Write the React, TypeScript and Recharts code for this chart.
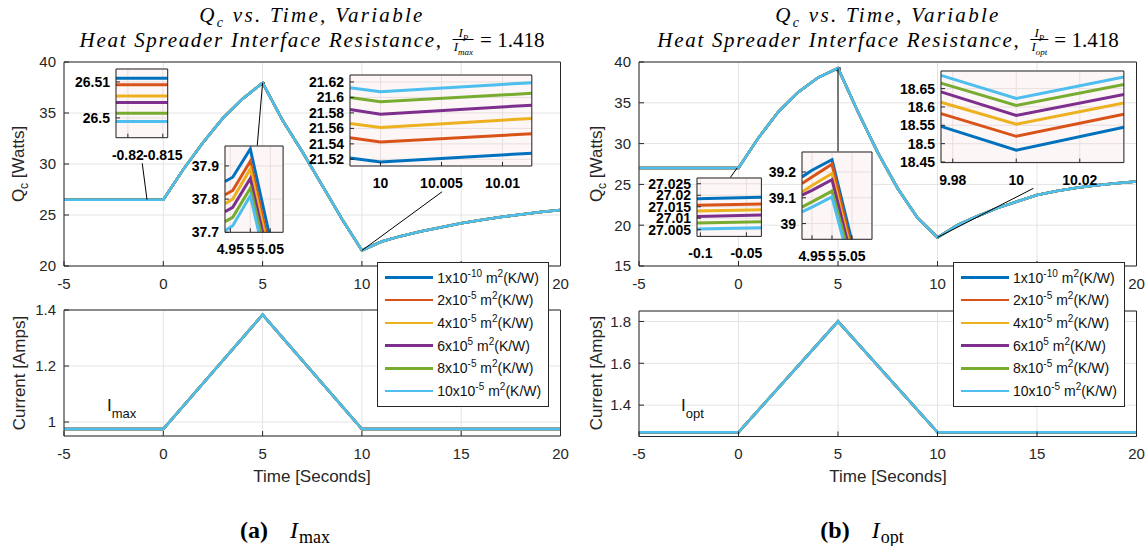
import React from 'react';
import { LineChart, Line, XAxis, YAxis, CartesianGrid, ReferenceLine, ReferenceArea } from 'recharts';

// MATLAB default colour order, one per interface resistance
const COLORS = ['#0072BD', '#D95319', '#EDB120', '#7E2F8E', '#77AC30', '#4DBEEE'];
const LEGEND_BASE = ['1x10', '2x10', '4x10', '6x10', '8x10', '10x10'];
const LEGEND_EXP = ['-10', '-5', '-5', '5', '-5', '-5'];

// main Q_c traces (the six resistances overlap at this scale)
const TIME = [-5, 0, 1, 2, 3, 4, 5, 6, 7, 8, 9, 10, 11, 12, 13, 14, 15, 16, 17, 18, 19, 20];
const QC_IMAX = [26.5, 26.5, 29.45, 32.1, 34.5, 36.4, 37.95, 34.3, 31.2, 27.9, 24.6, 21.52, 22.4, 22.95, 23.4, 23.8, 24.2, 24.5, 24.8, 25.05, 25.3, 25.5];
const QC_IOPT = [27.02, 27.02, 30.7, 33.9, 36.3, 38.1, 39.25, 33.9, 28.9, 24.5, 20.9, 18.5, 20.0, 21.1, 22.1, 22.9, 23.7, 24.2, 24.6, 24.9, 25.15, 25.35];

// drive current
const TIME_I = [-5, 0, 5, 10, 20];
const CURRENT_IMAX = [0.975, 0.975, 1.383, 0.975, 0.975];
const CURRENT_IOPT = [1.27, 1.27, 1.8, 1.27, 1.27];

// axis ticks
const X_TICKS = [-5, 0, 5, 10, 15, 20];
const X_MINOR = [-4, -3, -2, -1, 1, 2, 3, 4, 6, 7, 8, 9, 11, 12, 13, 14, 16, 17, 18, 19];
const QA_TICKS = [20, 25, 30, 35, 40];
const QA_MINOR = [21, 22, 23, 24, 26, 27, 28, 29, 31, 32, 33, 34, 36, 37, 38, 39];
const QB_TICKS = [15, 20, 25, 30, 35, 40];
const QB_MINOR = [16, 17, 18, 19, 21, 22, 23, 24, 26, 27, 28, 29, 31, 32, 33, 34, 36, 37, 38, 39];
const IA_TICKS = [1, 1.2, 1.4];
const IA_MINOR = [1.05, 1.1, 1.15, 1.25, 1.3, 1.35];
const IB_TICKS = [1.4, 1.6, 1.8];
const IB_MINOR = [1.3, 1.35, 1.45, 1.5, 1.55, 1.65, 1.7, 1.75];

// zoom insets, panel (a)
const ZA1_T = [-0.825, -0.81];
const ZA1_Q = [[26.511, 26.511], [26.5092, 26.5092], [26.5061, 26.5061], [26.5043, 26.5043], [26.5013, 26.5013], [26.499, 26.499]];
const ZA1_X: [number, number] = [-0.8217, -0.8143];
const ZA1_Y: [number, number] = [26.4945, 26.5136];
const ZA1_XT = [-0.82, -0.815];
const ZA1_YT = [26.5, 26.51];

const ZA2_T = [4.9367, 4.956, 5.0, 5.05];
const ZA2_Q = [
  [37.853, 37.866, 37.951, 37.68],
  [37.813, 37.826, 37.914, 37.64],
  [37.786, 37.8, 37.891, 37.62],
  [37.762, 37.775, 37.862, 37.6],
  [37.732, 37.745, 37.833, 37.58],
  [37.705, 37.72, 37.81, 37.55],
];
const ZA2_X: [number, number] = [4.9367, 5.082];
const ZA2_Y: [number, number] = [37.7, 37.96];
const ZA2_XT = [4.95, 5, 5.05];
const ZA2_YT = [37.7, 37.8, 37.9];

const ZA3_T = [9.9975, 10, 10.0124];
const ZA3_Q = [
  [21.5218, 21.5166, 21.528],
  [21.548, 21.5425, 21.553],
  [21.5664, 21.5612, 21.5729],
  [21.5845, 21.5784, 21.59],
  [21.6, 21.5944, 21.6053],
  [21.6126, 21.6075, 21.6191],
];
const ZA3_X: [number, number] = [9.9975, 10.0124];
const ZA3_Y: [number, number] = [21.5114, 21.629];
const ZA3_XT = [10, 10.005, 10.01];
const ZA3_YT = [21.52, 21.54, 21.56, 21.58, 21.6, 21.62];

// zoom insets, panel (b)
const ZB1_T = [-0.1037, -0.0337];
const ZB1_Q = [
  [27.0185, 27.0191],
  [27.0156, 27.0162],
  [27.0131, 27.0137],
  [27.0108, 27.0114],
  [27.0079, 27.0085],
  [27.0053, 27.0059],
];
const ZB1_X: [number, number] = [-0.1037, -0.0337];
const ZB1_Y: [number, number] = [27.0021, 27.0275];
const ZB1_XT = [-0.1, -0.05];
const ZB1_YT = [27.005, 27.01, 27.015, 27.02, 27.025];

const ZB2_T = [4.925, 4.95, 5.0, 5.05];
const ZB2_Q = [
  [39.181, 39.207, 39.248, 38.93],
  [39.155, 39.181, 39.23, 38.9],
  [39.122, 39.148, 39.194, 38.88],
  [39.11, 39.129, 39.17, 38.86],
  [39.064, 39.084, 39.126, 38.84],
  [39.045, 39.064, 39.103, 38.81],
];
const ZB2_X: [number, number] = [4.925, 5.1];
const ZB2_Y: [number, number] = [38.939, 39.2775];
const ZB2_XT = [4.95, 5, 5.05];
const ZB2_YT = [39, 39.1, 39.2];

const ZB3_T = [9.9763, 10, 10.0339];
const ZB3_Q = [
  [18.547, 18.482, 18.545],
  [18.582, 18.52, 18.58],
  [18.613, 18.553, 18.611],
  [18.641, 18.577, 18.634],
  [18.665, 18.604, 18.661],
  [18.686, 18.623, 18.682],
];
const ZB3_X: [number, number] = [9.9763, 10.0339];
const ZB3_Y: [number, number] = [18.4484, 18.698];
const ZB3_XT = [9.98, 10, 10.02];
const ZB3_YT = [18.45, 18.5, 18.55, 18.6, 18.65];

// callout lines from the curve to each inset (data coords of the main axes)
const CALLOUT_A1 = [{ x: -0.82, y: 26.5 }, { x: -1.06, y: 30.07 }];
const CALLOUT_A2 = [{ x: 5, y: 37.95 }, { x: 4.728, y: 31.76 }];
const CALLOUT_A3 = [{ x: 10, y: 21.52 }, { x: 14.04, y: 27.28 }];
const CALLOUT_B1 = [{ x: -0.07, y: 27.01 }, { x: -0.437, y: 25.75 }];
const CALLOUT_B2 = [{ x: 5, y: 39.2 }, { x: 5, y: 29.0 }];
const CALLOUT_B3 = [{ x: 10, y: 18.5 }, { x: 14.82, y: 24.52 }];

const AX = '#262626';

type PlotProps = {
  left: number; top: number; w: number; h: number;
  t: number[]; q: number[][];
  xDomain: [number, number]; yDomain: [number, number];
  xTicks: number[]; yTicks: number[];
  xMinor?: number[]; yMinor?: number[];
  lineWidth: number;
  inset?: boolean;
  children?: React.ReactNode;
};

function Plot(p: PlotProps) {
  const ML = p.inset ? 64 : 60;
  const MB = 30;
  const MT = 12; // room for the top tick label
  const MR = 30; // room for the last x label
  const major = p.inset ? 4 : 5;
  const tick = p.inset ? { fontSize: 14, fontWeight: 700, fill: '#000' } : { fontSize: 15, fill: AX };
  const data = p.t.map((x, i) => {
    const row: Record<string, number> = { t: x };
    p.q.forEach((s, k) => { row['s' + k] = s[i]; });
    return row;
  });
  return (
    <div style={{ position: 'absolute', left: p.left - ML, top: p.top - MT - 4 }}>
      <LineChart width={ML + p.w + 4 + MR} height={MT + 4 + p.h + MB} data={data} margin={{ top: MT, right: MR, bottom: 0, left: 0 }}>
        <CartesianGrid xAxisId="x" yAxisId="y" stroke={p.inset ? '#e9dfdf' : '#e4e4e4'} fill={p.inset ? '#fcf6f6' : 'none'} fillOpacity={1} />
        <XAxis xAxisId="x" dataKey="t" type="number" domain={p.xDomain} ticks={p.xTicks} allowDataOverflow interval={0}
          height={MB} tickSize={-major} tickMargin={p.inset ? 16 : 17} tickLine={{ stroke: AX }} axisLine={{ stroke: AX }} tick={tick} />
        <XAxis xAxisId="xt" orientation="top" type="number" domain={p.xDomain} ticks={p.xTicks} allowDataOverflow interval={0}
          height={4} tickSize={-major} tick={false} tickLine={{ stroke: AX }} axisLine={{ stroke: AX }} />
        <YAxis yAxisId="y" type="number" domain={p.yDomain} ticks={p.yTicks} allowDataOverflow interval={0}
          width={ML} tickSize={-major} tickMargin={major + (p.inset ? 6 : 8)} tickLine={{ stroke: AX }} axisLine={{ stroke: AX }} tick={tick} />
        <YAxis yAxisId="yr" orientation="right" type="number" domain={p.yDomain} ticks={p.yTicks} allowDataOverflow interval={0}
          width={4} tickSize={-major} tick={false} tickLine={{ stroke: AX }} axisLine={{ stroke: AX }} />
        {p.xMinor && (
          <XAxis xAxisId="xbm" orientation="bottom" mirror type="number" domain={p.xDomain} ticks={p.xMinor} allowDataOverflow interval={0}
            height={1} tickSize={3} tick={false} tickLine={{ stroke: AX }} axisLine={false} />
        )}
        {p.xMinor && (
          <XAxis xAxisId="xtm" orientation="top" mirror type="number" domain={p.xDomain} ticks={p.xMinor} allowDataOverflow interval={0}
            height={1} tickSize={3} tick={false} tickLine={{ stroke: AX }} axisLine={false} />
        )}
        {p.yMinor && (
          <YAxis yAxisId="ylm" orientation="left" mirror type="number" domain={p.yDomain} ticks={p.yMinor} allowDataOverflow interval={0}
            width={1} tickSize={3} tick={false} tickLine={{ stroke: AX }} axisLine={false} />
        )}
        {p.yMinor && (
          <YAxis yAxisId="yrm" orientation="right" mirror type="number" domain={p.yDomain} ticks={p.yMinor} allowDataOverflow interval={0}
            width={1} tickSize={3} tick={false} tickLine={{ stroke: AX }} axisLine={false} />
        )}
        {p.q.map((_, k) => (
          <Line key={k} xAxisId="x" yAxisId="y" type="linear" dataKey={'s' + k} stroke={COLORS[k]}
            strokeWidth={p.lineWidth} dot={false} isAnimationActive={false} />
        ))}
        {p.children}
      </LineChart>
    </div>
  );
}

function ZoomMark({ xr, yr, seg }: { xr: [number, number]; yr: [number, number]; seg: { x: number; y: number }[] }) {
  return (
    <>
      <ReferenceLine xAxisId="x" yAxisId="y" segment={seg} stroke="#000" strokeWidth={1} ifOverflow="visible" />
      <ReferenceArea xAxisId="x" yAxisId="y" x1={xr[0]} x2={xr[1]} y1={yr[0]} y2={yr[1]} fill="none" stroke="#000" strokeWidth={1.2} ifOverflow="visible" />
    </>
  );
}

function Title({ cx, den }: { cx: number; den: string }) {
  const serif = 'Liberation Serif, Times New Roman, serif';
  return (
    <>
      <div style={{ position: 'absolute', left: cx, top: 3, transform: 'translateX(-50%)', fontFamily: serif, fontStyle: 'italic', fontSize: 21, letterSpacing: 2.3, whiteSpace: 'nowrap', lineHeight: '24px' }}>
        Q<sub style={{ fontSize: 14, lineHeight: 0 }}>c</sub> vs. Time, Variable
      </div>
      <div style={{ position: 'absolute', left: cx, top: 27, transform: 'translateX(-50%)', fontFamily: serif, fontSize: 21, whiteSpace: 'nowrap', display: 'flex', alignItems: 'center', height: 26 }}>
        <span style={{ fontStyle: 'italic', letterSpacing: 1.7 }}>Heat Spreader Interface Resistance,</span>
        <span style={{ display: 'inline-flex', flexDirection: 'column', alignItems: 'center', margin: '0 6px 0 10px', fontStyle: 'italic', fontSize: 13, lineHeight: '12px' }}>
          <span>I<sub style={{ fontSize: 9, lineHeight: 0 }}>P</sub></span>
          <span style={{ borderTop: '1px solid #000', padding: '1px 1px 0' }}>I<sub style={{ fontSize: 9, lineHeight: 0 }}>{den}</sub></span>
        </span>
        <span>= 1.418</span>
      </div>
    </>
  );
}

function Legend({ left }: { left: number }) {
  return (
    <div style={{ position: 'absolute', left, top: 262, width: 172, height: 145, boxSizing: 'border-box', border: '1px solid ' + AX, background: '#fff', fontSize: 14, color: '#111' }}>
      {COLORS.map((c, i) => (
        <div key={i} style={{ position: 'absolute', left: 7.5, top: 3.5 + i * 22.7, height: 22, display: 'flex', alignItems: 'center', whiteSpace: 'nowrap' }}>
          <div style={{ width: 48, height: 2.5, background: c }} />
          <span style={{ marginLeft: 4 }}>
            {LEGEND_BASE[i]}<span style={{ fontSize: 10, position: 'relative', top: -6 }}>{LEGEND_EXP[i]}</span>
            {' '}m<span style={{ fontSize: 10, position: 'relative', top: -6 }}>2</span>(K/W)
          </span>
        </div>
      ))}
    </div>
  );
}

function VLabel({ cx, cy, children }: { cx: number; cy: number; children: React.ReactNode }) {
  return (
    <div style={{ position: 'absolute', left: cx, top: cy, transform: 'translate(-50%, -50%) rotate(-90deg)', fontSize: 17, color: AX, whiteSpace: 'nowrap' }}>
      {children}
    </div>
  );
}

function Caption({ cx, tag, sub }: { cx: number; tag: string; sub: string }) {
  return (
    <div style={{ position: 'absolute', left: cx, top: 530, transform: 'translate(-50%, -50%)', fontFamily: 'Liberation Serif, serif', fontSize: 24, whiteSpace: 'nowrap' }}>
      <b>({tag})</b>
      <span style={{ marginLeft: 22, fontStyle: 'italic' }}>I</span>
      <span style={{ fontSize: 18, position: 'relative', top: 5, marginLeft: 1 }}>{sub}</span>
    </div>
  );
}

export default function App() {
  const sixA = COLORS.map(() => QC_IMAX);
  const sixB = COLORS.map(() => QC_IOPT);
  const curA = COLORS.map(() => CURRENT_IMAX);
  const curB = COLORS.map(() => CURRENT_IOPT);
  return (
    <div style={{ position: 'absolute', left: 0, top: 0, width: 1147, height: 546, overflow: 'hidden', background: '#fff', fontFamily: 'Liberation Sans, Arial, sans-serif' }}>
      <Title cx={312} den="max" />
      <Title cx={888} den="opt" />

      {/* panel (a) */}
      <Plot left={63.5} top={62} w={496.5} h={204} t={TIME} q={sixA} xDomain={[-5, 20]} yDomain={[20, 40]}
        xTicks={X_TICKS} yTicks={QA_TICKS} xMinor={X_MINOR} yMinor={QA_MINOR} lineWidth={2.5}>
        <ZoomMark xr={ZA1_X} yr={ZA1_Y} seg={CALLOUT_A1} />
        <ZoomMark xr={ZA2_X} yr={ZA2_Y} seg={CALLOUT_A2} />
        <ZoomMark xr={ZA3_X} yr={ZA3_Y} seg={CALLOUT_A3} />
      </Plot>
      <Plot left={63.5} top={310} w={496.5} h={126} t={TIME_I} q={curA} xDomain={[-5, 20]} yDomain={[0.95, 1.4]}
        xTicks={X_TICKS} yTicks={IA_TICKS} xMinor={X_MINOR} yMinor={IA_MINOR} lineWidth={2.5} />
      <Plot inset left={116} top={69} w={51.7} h={68.7} t={ZA1_T} q={ZA1_Q} xDomain={ZA1_X} yDomain={ZA1_Y}
        xTicks={ZA1_XT} yTicks={ZA1_YT} lineWidth={3} />
      <Plot inset left={225.4} top={146} w={58.1} h={86.3} t={ZA2_T} q={ZA2_Q} xDomain={ZA2_X} yDomain={ZA2_Y}
        xTicks={ZA2_XT} yTicks={ZA2_YT} lineWidth={3} />
      <Plot inset left={350} top={75} w={181.8} h={91} t={ZA3_T} q={ZA3_Q} xDomain={ZA3_X} yDomain={ZA3_Y}
        xTicks={ZA3_XT} yTicks={ZA3_YT} lineWidth={3} />

      {/* panel (b) */}
      <Plot left={639.2} top={62} w={497.5} h={204} t={TIME} q={sixB} xDomain={[-5, 20]} yDomain={[15, 40]}
        xTicks={X_TICKS} yTicks={QB_TICKS} xMinor={X_MINOR} yMinor={QB_MINOR} lineWidth={2.5}>
        <ZoomMark xr={ZB1_X} yr={ZB1_Y} seg={CALLOUT_B1} />
        <ZoomMark xr={ZB2_X} yr={ZB2_Y} seg={CALLOUT_B2} />
        <ZoomMark xr={ZB3_X} yr={ZB3_Y} seg={CALLOUT_B3} />
      </Plot>
      <Plot left={639.2} top={310.5} w={497.5} h={125.5} t={TIME_I} q={curB} xDomain={[-5, 20]} yDomain={[1.25, 1.85]}
        xTicks={X_TICKS} yTicks={IB_TICKS} xMinor={X_MINOR} yMinor={IB_MINOR} lineWidth={2.5} />
      <Plot inset left={697.3} top={178.3} w={64.4} h={58.4} t={ZB1_T} q={ZB1_Q} xDomain={ZB1_X} yDomain={ZB1_Y}
        xTicks={ZB1_XT} yTicks={ZB1_YT} lineWidth={3} />
      <Plot inset left={801.7} top={151.7} w={70} h={87.3} t={ZB2_T} q={ZB2_Q} xDomain={ZB2_X} yDomain={ZB2_Y}
        xTicks={ZB2_XT} yTicks={ZB2_YT} lineWidth={3} />
      <Plot inset left={940.9} top={70.7} w={182.9} h={91.6} t={ZB3_T} q={ZB3_Q} xDomain={ZB3_X} yDomain={ZB3_Y}
        xTicks={ZB3_XT} yTicks={ZB3_YT} lineWidth={3} />

      <Legend left={376.7} />
      <Legend left={952.5} />

      <VLabel cx={20} cy={164}>Q<sub style={{ fontSize: 12 }}>c</sub> [Watts]</VLabel>
      <VLabel cx={20} cy={373}>Current [Amps]</VLabel>
      <VLabel cx={598} cy={164}>Q<sub style={{ fontSize: 12 }}>c</sub> [Watts]</VLabel>
      <VLabel cx={597} cy={373}>Current [Amps]</VLabel>

      <div style={{ position: 'absolute', left: 312, top: 477, transform: 'translate(-50%, -50%)', fontSize: 17, color: AX, whiteSpace: 'nowrap' }}>Time [Seconds]</div>
      <div style={{ position: 'absolute', left: 888, top: 477, transform: 'translate(-50%, -50%)', fontSize: 17, color: AX, whiteSpace: 'nowrap' }}>Time [Seconds]</div>

      <div style={{ position: 'absolute', left: 107, top: 396, color: '#111', whiteSpace: 'nowrap' }}>
        <span style={{ fontSize: 17 }}>I</span><span style={{ fontSize: 13, position: 'relative', top: 7 }}>max</span>
      </div>
      <div style={{ position: 'absolute', left: 681, top: 396, color: '#111', whiteSpace: 'nowrap' }}>
        <span style={{ fontSize: 17 }}>I</span><span style={{ fontSize: 13, position: 'relative', top: 7 }}>opt</span>
      </div>

      <Caption cx={285} tag="a" sub="max" />
      <Caption cx={862} tag="b" sub="opt" />
    </div>
  );
}
